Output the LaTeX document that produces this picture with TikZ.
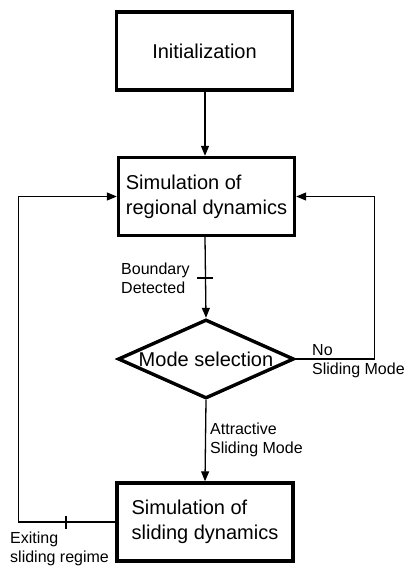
\documentclass[tikz,border=0pt]{standalone}
\usepackage{fontspec}
\setmainfont{Liberation Sans}
\usetikzlibrary{arrows.meta,shapes.geometric,calc}
\begin{document}
\begin{tikzpicture}[x=1pt,y=-1pt,
  box/.style={draw,line width=3.4pt,minimum width=176pt,minimum height=78pt,inner sep=0pt,align=left,
    font=\fontsize{20}{25}\selectfont},
  lbl/.style={anchor=west,align=left,inner sep=2pt,font=\fontsize{16}{19}\selectfont},
  conn/.style={line width=1.3pt,-{Triangle[length=10pt,width=8pt]}},
  plain/.style={line width=1.3pt}]
\useasboundingbox (0,0) rectangle (405,568);
\node[box] (init) at (204.5,51) {Initialization};
\node[box] (reg) at (206.5,196.5) {Simulation of\\regional dynamics};
\node[draw,diamond,line width=3.4pt,minimum width=176pt,minimum height=79pt,inner sep=0pt,
  label={[font=\fontsize{20}{25}\selectfont]center:Mode selection}] (ms) at (206,359) {};
\node[box] (sl) at (205,522) {Simulation of\\sliding dynamics};
\coordinate (t1) at (205,278);
\coordinate (t2) at (66,522);
\draw[conn] (init.south -| 205,0) -- (reg.north -| 205,0);
\draw[conn] (reg.south -| 205,0) -- (ms.north);
\draw[conn] (ms.south) -- (sl.north -| 205,0);
\draw[conn] (ms.east) -- ++(79,0) |- (reg.east);
\draw[conn] (sl.west) -- ++(-97,0) |- (reg.west);
\draw[plain] ([xshift=-8pt]t1) -- ([xshift=8pt]t1);
\draw[plain] ([yshift=-6.5pt]t2) -- ([yshift=6pt]t2);
\node[lbl] (lb1) at (119,278) {Boundary\\Detected};
\node[lbl] (lb2) at (310,361) {No\\Sliding Mode};
\node[lbl] (lb3) at (208,440) {Attractive\\Sliding Mode};
\node[lbl] (lb4) at (8,549) {Exiting\\sliding regime};
\end{tikzpicture}
\end{document}
